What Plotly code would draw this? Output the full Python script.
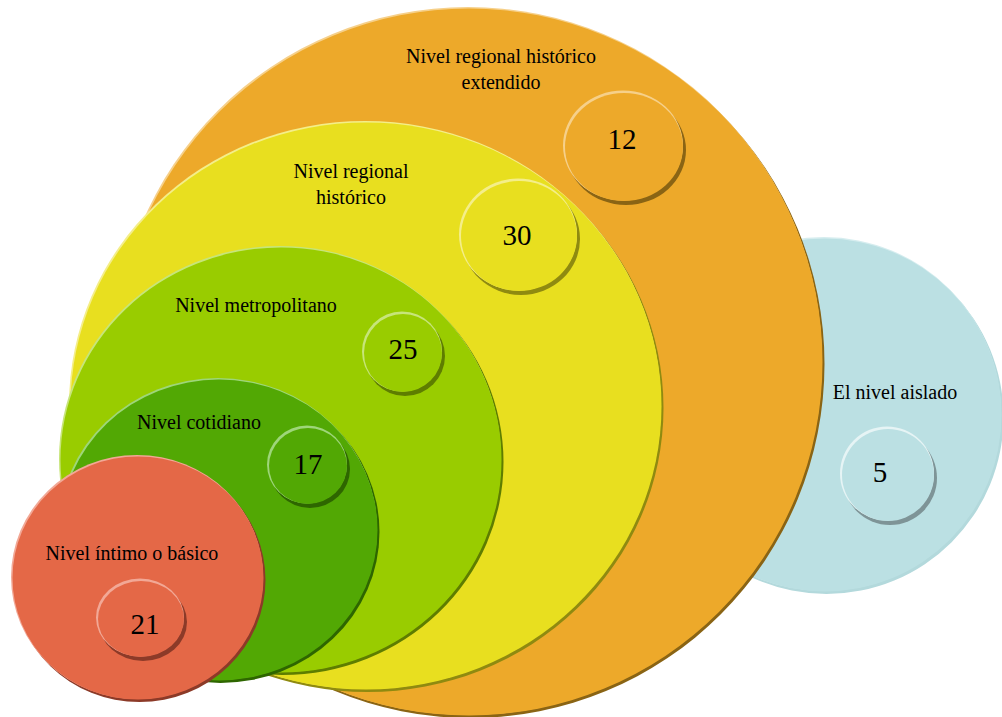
import plotly.graph_objects as go

# ---- data ----
levels = ["El nivel aislado", "Nivel regional histórico<br>extendido", "Nivel regional<br>histórico",
          "Nivel metropolitano", "Nivel cotidiano", "Nivel íntimo o básico"]
counts = [5, 12, 30, 25, 17, 21]

# ---- layout geometry (pixel space) ----
big_cx = [825, 469, 366, 281, 219, 138]
big_cy = [415, 362, 406, 460, 530, 578]
big_rx = [177, 354, 296, 221, 159, 126]
big_ry = [177, 354, 284, 213, 151, 122]
fill = ["#BBE0E3", "#EDA92A", "#E8DF1F", "#99CC00", "#52A804", "#E46847"]
dark = ["#B3D9DC", "#8A6414", "#8F8A10", "#5E7D00", "#2E6600", "#8C3A28"]
light = ["#D6EDEF", "#F6D08A", "#F4EE8A", "#C7E57A", "#9ED67A", "#F2A896"]
sm_dark = ["#7E9497", "#8A6414", "#8F8A10", "#5E7D00", "#2E6600", "#8C3A28"]
sm_light = ["#E6F4F5", "#F6D08A", "#F4EE8A", "#C7E57A", "#9ED67A", "#F2A896"]

lab_x = [895, 501, 351, 256, 199, 132]
lab_y = [394, 71, 186, 307, 424, 555]

sm_cx = [888, 624, 519, 403, 308, 141]
sm_cy = [475, 147, 236, 353, 466, 619]
sm_rx = [47, 60, 59, 40, 40, 44]
sm_ry = [47, 55, 56, 40, 39, 39]
num_x = [880, 622, 517, 403, 308, 145]
num_y = [475, 142, 238, 352, 467, 627]

shapes = []
def ell(cx, cy, rx, ry, color, dx=0, dy=0):
    return dict(type="circle", xref="x", yref="y", layer="below",
                x0=cx - rx + dx, x1=cx + rx + dx, y0=cy - ry + dy, y1=cy + ry + dy,
                fillcolor=color, line=dict(width=0))

for i in range(len(levels)):
    shapes.append(ell(big_cx[i], big_cy[i], big_rx[i], big_ry[i], dark[i], 1.5, 2))
    shapes.append(ell(big_cx[i], big_cy[i], big_rx[i], big_ry[i], light[i], -1, -1))
    shapes.append(ell(big_cx[i], big_cy[i], big_rx[i] - 0.5, big_ry[i] - 0.5, fill[i], 0, 0))
for i in range(len(levels)):
    shapes.append(ell(sm_cx[i], sm_cy[i], sm_rx[i], sm_ry[i], sm_dark[i], 2, 3))
    shapes.append(ell(sm_cx[i], sm_cy[i], sm_rx[i], sm_ry[i], sm_light[i], -1, -1.5))
    shapes.append(ell(sm_cx[i], sm_cy[i], sm_rx[i] - 1, sm_ry[i] - 1, fill[i], 0, 0))

fig = go.Figure()
fig.add_trace(go.Scatter(x=lab_x, y=lab_y, mode="text", text=levels,
                         textfont=dict(family="Liberation Serif", size=20, color="#000000"),
                         hoverinfo="skip", showlegend=False))
fig.add_trace(go.Scatter(x=num_x, y=num_y, mode="text", text=[str(c) for c in counts],
                         textfont=dict(family="Liberation Serif", size=29, color="#000000"),
                         hoverinfo="skip", showlegend=False))

fig.update_layout(
    width=1002, height=717,
    margin=dict(l=0, r=0, t=0, b=0),
    paper_bgcolor="white", plot_bgcolor="white",
    shapes=shapes,
    xaxis=dict(range=[0, 1002], visible=False, fixedrange=True),
    yaxis=dict(range=[717, 0], visible=False, fixedrange=True),
    showlegend=False,
)
fig.write_html("out.html")
